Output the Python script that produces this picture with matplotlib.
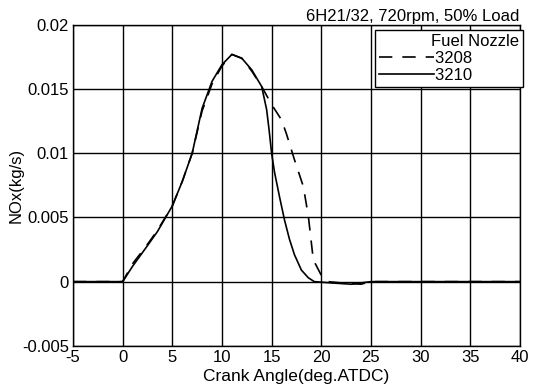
import matplotlib
matplotlib.use("Agg")
import matplotlib.pyplot as plt

plt.rcParams['font.family'] = ['Liberation Sans', 'DejaVu Sans']
plt.rcParams['axes.unicode_minus'] = False

# Crank angle (deg ATDC) and NOx rate (kg/s)
ca_3210 = [-5, 0, 1, 2.4, 3.5, 5, 6, 7, 8, 9, 10, 11, 12, 13, 14, 14.5, 14.75,
           15, 15.3, 15.8, 16.3, 16.8, 17.3, 18, 18.7, 19.3, 21, 23, 25, 40]
nox_3210 = [0, 0, 0.0012, 0.0027, 0.0039, 0.0059, 0.0078, 0.0100, 0.0135,
            0.0156, 0.0169, 0.0177, 0.0174, 0.0165, 0.0152, 0.0134, 0.0118,
            0.0100, 0.0085, 0.0066, 0.0048, 0.0033, 0.0021, 0.0009, 0.0003,
            0.0, -0.0001, -0.0002, 0, 0]

ca_3208 = [-5, 0, 1, 2.4, 3.5, 5, 6, 7, 8, 9, 10, 11, 12, 13, 14, 15, 16,
           16.5, 17.3, 18.2, 18.7, 19.2, 20, 20.7, 22, 24, 25, 40]
nox_3208 = [0, 0, 0.0014, 0.0028, 0.0040, 0.0059, 0.0078, 0.0100, 0.0133,
            0.0154, 0.0168, 0.0177, 0.0174, 0.0164, 0.0152, 0.0138, 0.0126,
            0.0115, 0.0095, 0.0074, 0.0051, 0.0017, 0.0005, 0.0, -0.0001,
            -0.0002, 0, 0]

fig = plt.figure(figsize=(5.37, 3.89), dpi=100)
ax = fig.add_axes([0.136, 0.111, 0.832, 0.825])

# trailing spaces widen the label column so it sits under the title, like the original
ax.plot(ca_3208, nox_3208, color='black', linestyle=(0, (8, 6)), lw=1.2,
        label='3208' + ' ' * 10)
ax.plot(ca_3210, nox_3210, color='black', linestyle='-', lw=1.2,
        label='3210' + ' ' * 10)

ax.set_xlim(-5, 40)
ax.set_ylim(-0.005, 0.02)
ax.set_xticks(range(-5, 41, 5))
ax.set_yticks([-0.005, 0, 0.005, 0.01, 0.015, 0.02])
ax.set_yticklabels(['-0.005', '0', '0.005', '0.01', '0.015', '0.02'])
ax.grid(True, color='black', lw=1.0)
ax.tick_params(labelsize=12, length=0, pad=3)
for s in ax.spines.values():
    s.set_linewidth(1.0)

ax.set_xlabel('Crank Angle(deg.ATDC)', fontsize=12.5, labelpad=3)
ax.set_ylabel('NOx(kg/s)', fontsize=12, labelpad=-1)
ax.set_title('6H21/32, 720rpm, 50% Load', fontsize=12, loc='right', pad=3)

leg = ax.legend(title='Fuel Nozzle', loc='upper right', fontsize=12,
                title_fontsize=12, handlelength=3.3, handletextpad=0.1,
                borderpad=0.25, labelspacing=0.1, fancybox=False,
                framealpha=1, edgecolor='black', borderaxespad=0,
                bbox_to_anchor=(1.007, 0.984))
leg._legend_box.align = 'right'
leg.get_frame().set_linewidth(1.0)

fig.savefig('out.png', dpi=100)
